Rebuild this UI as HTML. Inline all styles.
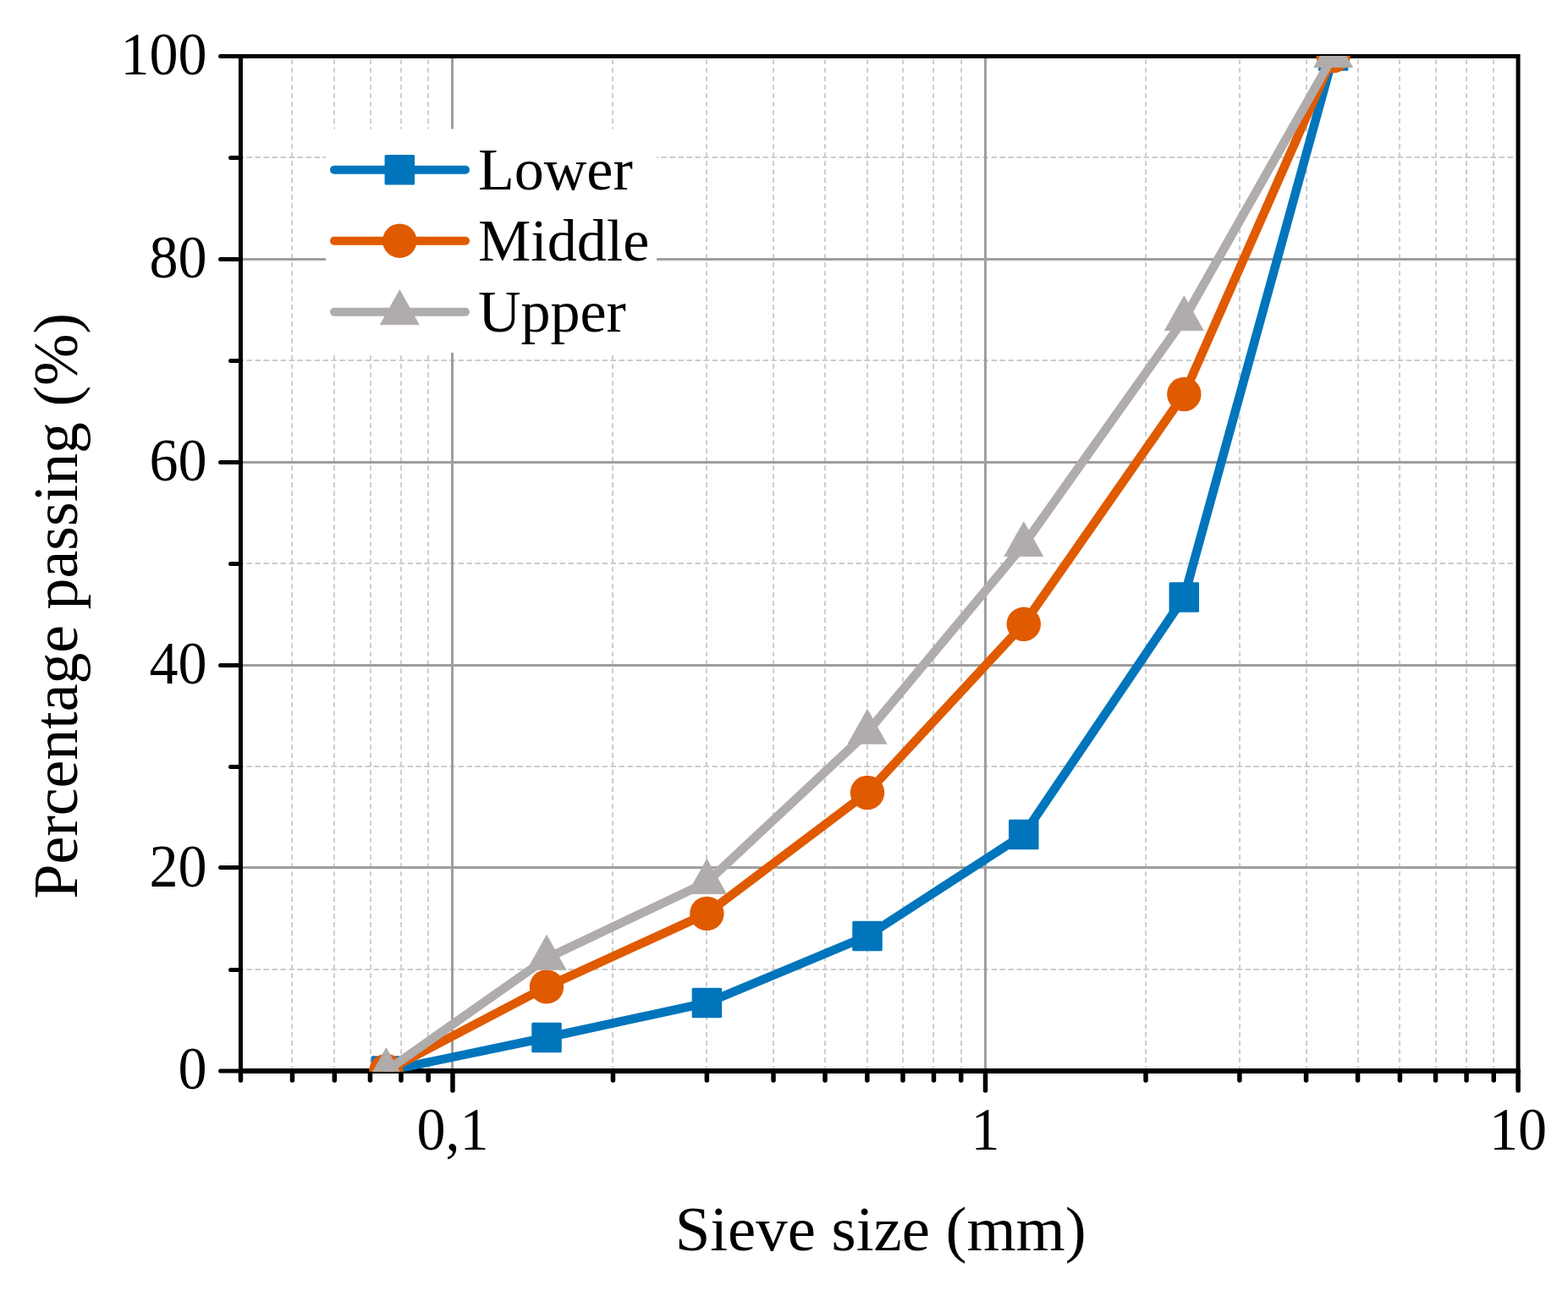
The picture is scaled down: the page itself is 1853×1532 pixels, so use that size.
<!DOCTYPE html><html><head><meta charset="utf-8"><style>html,body{margin:0;padding:0;background:#fff;}svg{display:block;}text{font-family:"Liberation Serif","Times New Roman",serif;fill:#000;}</style></head><body>
<svg width="1853" height="1532" viewBox="0 0 1853 1532">
<rect width="1853" height="1532" fill="#fff"/>
<g fill="none">
<line x1="345" y1="70.2" x2="345" y2="1263.00" stroke="#cdcdcd" stroke-width="2" stroke-dasharray="5.7 4.3"/>
<line x1="395" y1="70.2" x2="395" y2="1263.00" stroke="#cdcdcd" stroke-width="2" stroke-dasharray="5.7 4.3"/>
<line x1="438" y1="70.2" x2="438" y2="1263.00" stroke="#cdcdcd" stroke-width="2" stroke-dasharray="5.7 4.3"/>
<line x1="474" y1="70.2" x2="474" y2="1263.00" stroke="#cdcdcd" stroke-width="2" stroke-dasharray="5.7 4.3"/>
<line x1="506" y1="70.2" x2="506" y2="1263.00" stroke="#cdcdcd" stroke-width="2" stroke-dasharray="5.7 4.3"/>
<line x1="724" y1="70.2" x2="724" y2="1263.00" stroke="#cdcdcd" stroke-width="2" stroke-dasharray="5.7 4.3"/>
<line x1="835" y1="70.2" x2="835" y2="1263.00" stroke="#cdcdcd" stroke-width="2" stroke-dasharray="5.7 4.3"/>
<line x1="914" y1="70.2" x2="914" y2="1263.00" stroke="#cdcdcd" stroke-width="2" stroke-dasharray="5.7 4.3"/>
<line x1="975" y1="70.2" x2="975" y2="1263.00" stroke="#cdcdcd" stroke-width="2" stroke-dasharray="5.7 4.3"/>
<line x1="1025" y1="70.2" x2="1025" y2="1263.00" stroke="#cdcdcd" stroke-width="2" stroke-dasharray="5.7 4.3"/>
<line x1="1067" y1="70.2" x2="1067" y2="1263.00" stroke="#cdcdcd" stroke-width="2" stroke-dasharray="5.7 4.3"/>
<line x1="1103" y1="70.2" x2="1103" y2="1263.00" stroke="#cdcdcd" stroke-width="2" stroke-dasharray="5.7 4.3"/>
<line x1="1136" y1="70.2" x2="1136" y2="1263.00" stroke="#cdcdcd" stroke-width="2" stroke-dasharray="5.7 4.3"/>
<line x1="1354" y1="70.2" x2="1354" y2="1263.00" stroke="#cdcdcd" stroke-width="2" stroke-dasharray="5.7 4.3"/>
<line x1="1465" y1="70.2" x2="1465" y2="1263.00" stroke="#cdcdcd" stroke-width="2" stroke-dasharray="5.7 4.3"/>
<line x1="1544" y1="70.2" x2="1544" y2="1263.00" stroke="#cdcdcd" stroke-width="2" stroke-dasharray="5.7 4.3"/>
<line x1="1605" y1="70.2" x2="1605" y2="1263.00" stroke="#cdcdcd" stroke-width="2" stroke-dasharray="5.7 4.3"/>
<line x1="1654" y1="70.2" x2="1654" y2="1263.00" stroke="#cdcdcd" stroke-width="2" stroke-dasharray="5.7 4.3"/>
<line x1="1697" y1="70.2" x2="1697" y2="1263.00" stroke="#cdcdcd" stroke-width="2" stroke-dasharray="5.7 4.3"/>
<line x1="1733" y1="70.2" x2="1733" y2="1263.00" stroke="#cdcdcd" stroke-width="2" stroke-dasharray="5.7 4.3"/>
<line x1="1765" y1="70.2" x2="1765" y2="1263.00" stroke="#cdcdcd" stroke-width="2" stroke-dasharray="5.7 4.3"/>
<line x1="281.5" y1="1146" x2="1791.55" y2="1146" stroke="#cdcdcd" stroke-width="2" stroke-dasharray="6.5 3.5"/>
<line x1="281.5" y1="906" x2="1791.55" y2="906" stroke="#cdcdcd" stroke-width="2" stroke-dasharray="6.5 3.5"/>
<line x1="281.5" y1="666" x2="1791.55" y2="666" stroke="#cdcdcd" stroke-width="2" stroke-dasharray="6.5 3.5"/>
<line x1="281.5" y1="426" x2="1791.55" y2="426" stroke="#cdcdcd" stroke-width="2" stroke-dasharray="6.5 3.5"/>
<line x1="281.5" y1="186" x2="1791.55" y2="186" stroke="#cdcdcd" stroke-width="2" stroke-dasharray="6.5 3.5"/>
<line x1="534.5" y1="66.50" x2="534.5" y2="1266.00" stroke="#9e9e9e" stroke-width="3"/>
<line x1="1164.5" y1="66.50" x2="1164.5" y2="1266.00" stroke="#9e9e9e" stroke-width="3"/>
<line x1="284.43" y1="1025.5" x2="1794.05" y2="1025.5" stroke="#9e9e9e" stroke-width="3"/>
<line x1="284.43" y1="786.5" x2="1794.05" y2="786.5" stroke="#9e9e9e" stroke-width="3"/>
<line x1="284.43" y1="546.5" x2="1794.05" y2="546.5" stroke="#9e9e9e" stroke-width="3"/>
<line x1="284.43" y1="306.5" x2="1794.05" y2="306.5" stroke="#9e9e9e" stroke-width="3"/>
</g>
<path d="M284.43,1266.00 V66.50 H1794.05 V1266.00" fill="none" stroke="#000" stroke-width="5" stroke-linejoin="miter"/>
<line x1="281.93" y1="1266.00" x2="1796.55" y2="1266.00" stroke="#000" stroke-width="6"/>
<g stroke="#000" stroke-width="5" stroke-linecap="round">
<line x1="260.5" y1="1266.0" x2="284.43" y2="1266.0"/>
<line x1="260.5" y1="1025.5" x2="284.43" y2="1025.5"/>
<line x1="260.5" y1="786.5" x2="284.43" y2="786.5"/>
<line x1="260.5" y1="546.5" x2="284.43" y2="546.5"/>
<line x1="260.5" y1="306.5" x2="284.43" y2="306.5"/>
<line x1="260.5" y1="66.5" x2="284.43" y2="66.5"/>
<line x1="272.5" y1="1146.5" x2="284.43" y2="1146.5"/>
<line x1="272.5" y1="906.5" x2="284.43" y2="906.5"/>
<line x1="272.5" y1="666.5" x2="284.43" y2="666.5"/>
<line x1="272.5" y1="426.5" x2="284.43" y2="426.5"/>
<line x1="272.5" y1="186.5" x2="284.43" y2="186.5"/>
</g>
<g stroke="#000" stroke-width="5.5" stroke-linecap="round">
<line x1="534.95" y1="1266.00" x2="534.95" y2="1289"/>
<line x1="1164.50" y1="1266.00" x2="1164.50" y2="1289"/>
<line x1="1794.05" y1="1266.00" x2="1794.05" y2="1289"/>
<line x1="345.44" y1="1266.00" x2="345.44" y2="1277"/>
<line x1="395.29" y1="1266.00" x2="395.29" y2="1277"/>
<line x1="437.43" y1="1266.00" x2="437.43" y2="1277"/>
<line x1="473.94" y1="1266.00" x2="473.94" y2="1277"/>
<line x1="506.14" y1="1266.00" x2="506.14" y2="1277"/>
<line x1="724.46" y1="1266.00" x2="724.46" y2="1277"/>
<line x1="835.32" y1="1266.00" x2="835.32" y2="1277"/>
<line x1="913.98" y1="1266.00" x2="913.98" y2="1277"/>
<line x1="974.99" y1="1266.00" x2="974.99" y2="1277"/>
<line x1="1024.84" y1="1266.00" x2="1024.84" y2="1277"/>
<line x1="1066.98" y1="1266.00" x2="1066.98" y2="1277"/>
<line x1="1103.49" y1="1266.00" x2="1103.49" y2="1277"/>
<line x1="1135.69" y1="1266.00" x2="1135.69" y2="1277"/>
<line x1="1354.01" y1="1266.00" x2="1354.01" y2="1277"/>
<line x1="1464.87" y1="1266.00" x2="1464.87" y2="1277"/>
<line x1="1543.53" y1="1266.00" x2="1543.53" y2="1277"/>
<line x1="1604.54" y1="1266.00" x2="1604.54" y2="1277"/>
<line x1="1654.39" y1="1266.00" x2="1654.39" y2="1277"/>
<line x1="1696.53" y1="1266.00" x2="1696.53" y2="1277"/>
<line x1="1733.04" y1="1266.00" x2="1733.04" y2="1277"/>
<line x1="1765.24" y1="1266.00" x2="1765.24" y2="1277"/>
<line x1="284.43" y1="1266.00" x2="284.43" y2="1277"/>
</g>
<text transform="translate(244.5,1287.40) scale(1,1.068)" font-size="68" text-anchor="end">0</text>
<text transform="translate(244.5,1047.50) scale(1,1.068)" font-size="68" text-anchor="end">20</text>
<text transform="translate(244.5,807.60) scale(1,1.068)" font-size="68" text-anchor="end">40</text>
<text transform="translate(244.5,567.70) scale(1,1.068)" font-size="68" text-anchor="end">60</text>
<text transform="translate(244.5,327.80) scale(1,1.068)" font-size="68" text-anchor="end">80</text>
<text transform="translate(244.5,87.90) scale(1,1.068)" font-size="68" text-anchor="end">100</text>
<text transform="translate(534.95,1359) scale(1,1.068)" font-size="68" text-anchor="middle">0,1</text>
<text transform="translate(1164.50,1359) scale(1,1.068)" font-size="68" text-anchor="middle">1</text>
<text transform="translate(1794.05,1359) scale(1,1.068)" font-size="68" text-anchor="middle">10</text>
<text x="1040.7" y="1478" font-size="74.8" text-anchor="middle">Sieve size (mm)</text>
<text transform="translate(91,716.3) rotate(-90)" font-size="73.8" text-anchor="middle">Percentage passing (%)</text>
<defs><clipPath id="pc"><rect x="284.43" y="66" width="1509.62" height="1200.8"/></clipPath></defs>
<g clip-path="url(#pc)">
<polyline points="456.40,1266.00 646.00,1226.50 835.40,1185.50 1025.00,1106.40 1209.80,986.40 1399.30,706.00 1575.60,66.00" fill="none" stroke="#0075bc" stroke-width="10.5" stroke-linejoin="miter" stroke-linecap="butt"/>
<rect x="438.65" y="1248.25" width="35.5" height="35.5" rx="1.5" fill="#0075bc"/>
<rect x="628.25" y="1208.75" width="35.5" height="35.5" rx="1.5" fill="#0075bc"/>
<rect x="817.65" y="1167.75" width="35.5" height="35.5" rx="1.5" fill="#0075bc"/>
<rect x="1007.25" y="1088.65" width="35.5" height="35.5" rx="1.5" fill="#0075bc"/>
<rect x="1192.05" y="968.65" width="35.5" height="35.5" rx="1.5" fill="#0075bc"/>
<rect x="1381.55" y="688.25" width="35.5" height="35.5" rx="1.5" fill="#0075bc"/>
<rect x="1557.85" y="48.25" width="35.5" height="35.5" rx="1.5" fill="#0075bc"/>
<polyline points="456.40,1266.00 646.00,1166.40 835.40,1079.90 1025.00,937.00 1209.80,737.80 1399.30,466.00 1575.60,66.00" fill="none" stroke="#e05a00" stroke-width="10.5" stroke-linejoin="miter" stroke-linecap="butt"/>
<circle cx="456.40" cy="1266.00" r="20.2" fill="#e05a00"/>
<circle cx="646.00" cy="1166.40" r="20.2" fill="#e05a00"/>
<circle cx="835.40" cy="1079.90" r="20.2" fill="#e05a00"/>
<circle cx="1025.00" cy="937.00" r="20.2" fill="#e05a00"/>
<circle cx="1209.80" cy="737.80" r="20.2" fill="#e05a00"/>
<circle cx="1399.30" cy="466.00" r="20.2" fill="#e05a00"/>
<circle cx="1575.60" cy="66.00" r="20.2" fill="#e05a00"/>
<polyline points="456.40,1266.00 646.00,1132.70 835.40,1042.90 1025.00,865.70 1209.80,644.00 1399.30,377.00 1575.60,66.00" fill="none" stroke="#b0acab" stroke-width="10.5" stroke-linejoin="miter" stroke-linecap="butt"/>
<path d="M456.40,1238.67 L479.40,1279.67 L433.40,1279.67 Z" fill="#b0acab" stroke="#b0acab" stroke-width="0.8" stroke-linejoin="round"/>
<path d="M646.00,1105.37 L669.00,1146.37 L623.00,1146.37 Z" fill="#b0acab" stroke="#b0acab" stroke-width="0.8" stroke-linejoin="round"/>
<path d="M835.40,1015.57 L858.40,1056.57 L812.40,1056.57 Z" fill="#b0acab" stroke="#b0acab" stroke-width="0.8" stroke-linejoin="round"/>
<path d="M1025.00,838.37 L1048.00,879.37 L1002.00,879.37 Z" fill="#b0acab" stroke="#b0acab" stroke-width="0.8" stroke-linejoin="round"/>
<path d="M1209.80,616.67 L1232.80,657.67 L1186.80,657.67 Z" fill="#b0acab" stroke="#b0acab" stroke-width="0.8" stroke-linejoin="round"/>
<path d="M1399.30,349.67 L1422.30,390.67 L1376.30,390.67 Z" fill="#b0acab" stroke="#b0acab" stroke-width="0.8" stroke-linejoin="round"/>
<path d="M1575.60,38.67 L1598.60,79.67 L1552.60,79.67 Z" fill="#b0acab" stroke="#b0acab" stroke-width="0.8" stroke-linejoin="round"/>
</g>
<rect x="385" y="152.5" width="391" height="264.5" fill="#fff"/>
<line x1="395" y1="200.70" x2="550" y2="200.70" stroke="#0075bc" stroke-width="10" stroke-linecap="round"/>
<rect x="454.55" y="182.95" width="35.5" height="35.5" rx="1.5" fill="#0075bc"/>
<text x="565" y="223.90" font-size="70">Lower</text>
<line x1="395" y1="284.70" x2="550" y2="284.70" stroke="#e05a00" stroke-width="10" stroke-linecap="round"/>
<circle cx="472.30" cy="284.70" r="20.2" fill="#e05a00"/>
<text x="565" y="307.90" font-size="70">Middle</text>
<line x1="395" y1="368.70" x2="550" y2="368.70" stroke="#b0acab" stroke-width="10" stroke-linecap="round"/>
<path d="M472.30,342.77 L495.30,383.77 L449.30,383.77 Z" fill="#b0acab" stroke="#b0acab" stroke-width="0.8" stroke-linejoin="round"/>
<text x="565" y="391.90" font-size="70">Upper</text>
</svg></body></html>
